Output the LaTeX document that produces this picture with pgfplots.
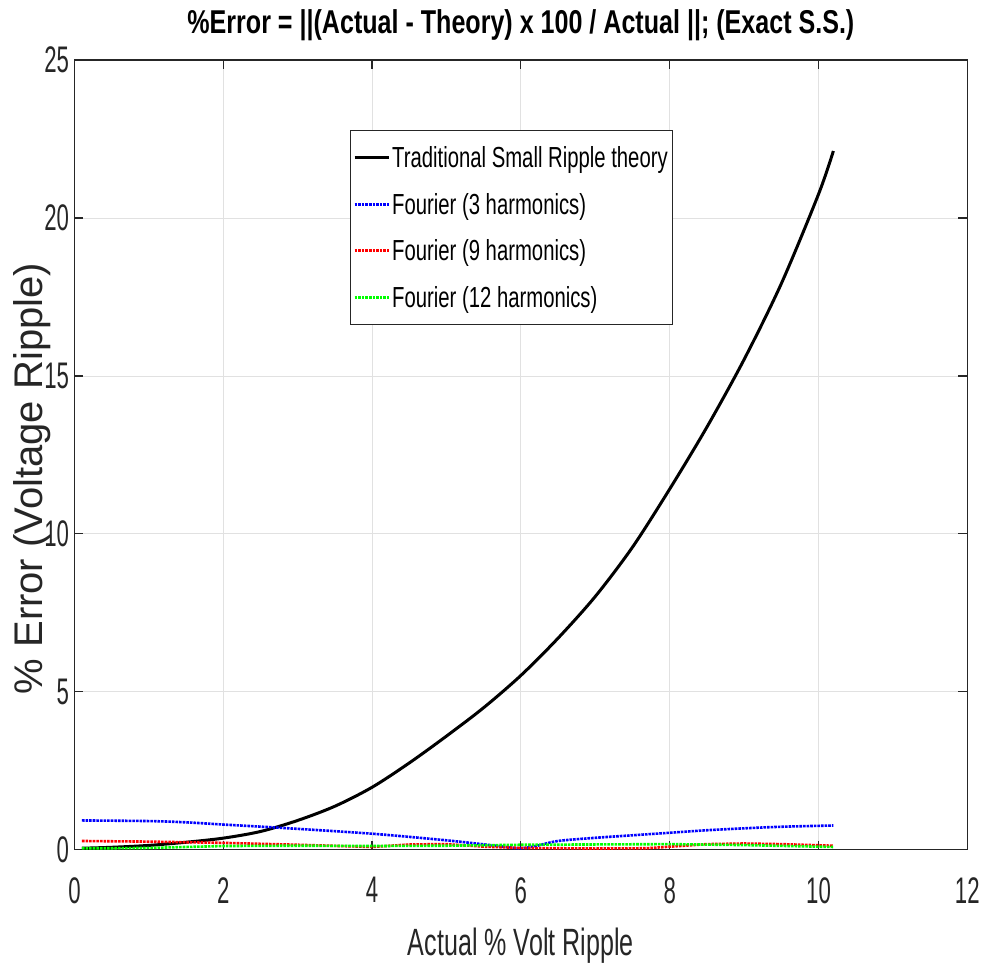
\documentclass[border=0pt]{standalone}
\usepackage{pgfplots}
\pgfplotsset{compat=1.18}
\usepackage{fontspec}
\setmainfont{Liberation Sans}
\newfontfamily\tickfont[FakeStretch=0.6]{Liberation Sans}
\newfontfamily\labelfont[FakeStretch=0.66]{Liberation Sans}
\newfontfamily\titlefont[FakeStretch=0.76]{Liberation Sans}
\newfontfamily\legfont[FakeStretch=0.70]{Liberation Sans}
\definecolor{axcol}{RGB}{38,38,38}
\definecolor{gridcol}{RGB}{225,225,225}

\begin{document}
\begin{tikzpicture}
\begin{axis}[
  scale only axis,
  width=893pt, height=790pt,
  xmin=0, xmax=12, ymin=0, ymax=25,
  xtick={0,2,...,12}, ytick={0,5,...,25},
  grid=major,
  major grid style={gridcol, line width=0.8pt},
  axis line style={axcol, line width=1.2pt},
  tick style={axcol, line width=1.2pt},
  tick align=inside,
  major tick length=9pt,
  minor tick num=0,
  /pgf/number format/assume math mode=true,
  tick label style={font=\tickfont\fontsize{37}{37}\selectfont, text=axcol},
  xticklabel style={yshift=-24pt},
  yticklabel style={xshift=-2pt},
  title={\titlefont\bfseries\fontsize{33}{33}\selectfont \%Error = ||(Actual - Theory) x 100 / Actual ||; (Exact S.S.)},
  title style={at={(0.5,1)}, anchor=south, yshift=10pt},
  xlabel={\labelfont\fontsize{38}{38}\selectfont Actual \% Volt Ripple},
  xlabel style={text=axcol, yshift=-18pt},
  ylabel={\fontsize{40}{40}\selectfont \% Error (Voltage Ripple)},
  ylabel style={text=axcol, at={(ticklabel cs:0.47)}, yshift=-13pt},
  legend style={at={(axis cs:3.7,22.78)}, anchor=north west,
    draw=axcol, line width=0.8pt, fill=white,
    font=\legfont\fontsize{29}{29}\selectfont,
    row sep=20pt, inner xsep=3pt, inner ysep=14pt,
    legend cell align=left},
  legend image code/.code={\draw[#1] (0pt,0pt) -- (34pt,0pt);},
]
% error of the classic small-ripple approximation
\addplot[black, line width=3pt, smooth] coordinates {
(0.1,0.05) (0.5,0.08) (1.0,0.14) (1.5,0.24) (2.0,0.37) (2.5,0.58)
(3.0,0.93) (3.5,1.38) (4.0,1.98) (4.5,2.75) (5.0,3.60) (5.5,4.50)
(6.0,5.52) (6.5,6.70) (7.0,8.02) (7.5,9.58) (8.0,11.42) (8.5,13.38)
(9.0,15.52) (9.5,17.92) (10.0,20.75) (10.2,22.12)
};
\addlegendentry{Traditional Small Ripple theory}
% Fourier series with 3 harmonics
\addplot[blue, line width=2.6pt, densely dotted, smooth] coordinates {
(0.1,0.93) (1.0,0.91) (1.5,0.87) (2.0,0.80) (2.6,0.72) (3.3,0.62)
(4.0,0.51) (4.5,0.41) (5.0,0.30) (5.4,0.20) (5.8,0.09) (6.0,0.05)
(6.2,0.12) (6.5,0.28) (7.0,0.38) (7.5,0.46) (8.0,0.54) (8.5,0.62)
(9.0,0.68) (9.5,0.73) (10.2,0.77)
};
\addlegendentry{Fourier (3 harmonics)}
% Fourier series with 9 harmonics
\addplot[red, line width=2.6pt, densely dotted] coordinates {
(0.1,0.28) (0.5,0.27) (1.0,0.26) (1.5,0.24) (2.0,0.22) (3.0,0.16)
(4.0,0.09) (4.5,0.17) (5.0,0.18) (5.5,0.10) (6.0,0.06) (7.0,0.04)
(7.7,0.05) (8.5,0.18) (9.0,0.20) (9.5,0.18) (10.2,0.13)
};
\addlegendentry{Fourier (9 harmonics)}
% Fourier series with 12 harmonics
\addplot[green, line width=2.6pt, densely dotted] coordinates {
(0.1,0.05) (0.5,0.05) (1.0,0.06) (1.5,0.09) (2.0,0.12) (3.0,0.13)
(4.0,0.12) (5.0,0.13) (6.0,0.16) (7.0,0.17) (8.0,0.18) (9.0,0.15)
(10.0,0.10) (10.2,0.09)
};
\addlegendentry{Fourier (12 harmonics)}
\end{axis}
\pgfresetboundingbox
\path ([shift={(-74.5pt,-118pt)}]current axis.south west) rectangle ([shift={(15.7pt,60pt)}]current axis.north east);
\end{tikzpicture}
\end{document}
